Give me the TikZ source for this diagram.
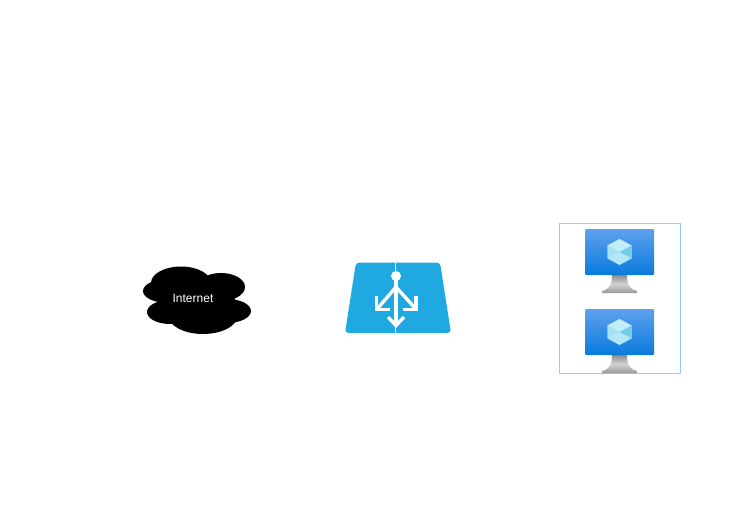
\documentclass[tikz,border=0pt]{standalone}
\usepackage{fontspec}
\setmainfont{Liberation Sans}
\definecolor{lbblue}{HTML}{1FA9E0}
\definecolor{boxblue}{HTML}{8CCFF7}
\definecolor{montop}{HTML}{5EA0EF}
\definecolor{monbot}{HTML}{0A7BDC}
\definecolor{cubea}{HTML}{C3EDF9}
\definecolor{cubeb}{HTML}{A9E2F5}
\definecolor{cubec}{HTML}{76CCE4}
\definecolor{cubed}{HTML}{B4E6F7}
\tikzset{
  lobe/.style={fill=black,draw=none},
  lbarrow/.style={draw=white,line width=3.4pt,line cap=butt,line join=miter},
  vmbox/.pic={
    \shade[top color=gray!90,bottom color=gray!80,middle color=gray!35]
      (-7.5,23) -- (7.5,23) .. controls (7.5,33) and (10,37) .. (17.5,39) -- (17.5,41) -- (-17.5,41) -- (-17.5,39) .. controls (-10,37) and (-7.5,33) .. (-7.5,23) -- cycle;
    \shade[top color=montop,bottom color=monbot,rounded corners=1pt]
      (-34.5,-23) rectangle (34.5,23);
    \fill[cubed] (0,-13) -- (12,-6.5) -- (12,6.5) -- (0,13) -- (-12,6.5) -- (-12,-6.5) -- cycle;
    \fill[cubea] (0,-13) -- (12,-6.5) -- (0,0) -- (-12,-6.5) -- cycle;
    \fill[cubec] (12,-6.5) -- (12,6.5) -- (0,0) -- cycle;
    \fill[cubeb] (-12,6.5) -- (-12,-6.5) -- (0,0) -- cycle;
  }
}
\begin{document}
\begin{tikzpicture}[x=1pt,y=-1pt]
\useasboundingbox (0,0) rectangle (756,530);
% cloud
\fill[lobe] (168,291) ellipse [x radius=25,y radius=12];
\fill[lobe] (181,283) ellipse [x radius=30,y radius=16.5];
\fill[lobe] (221,287) ellipse [x radius=24,y radius=14];
\fill[lobe] (227,311) ellipse [x radius=24,y radius=12];
\fill[lobe] (170,312) ellipse [x radius=23,y radius=12];
\fill[lobe] (203,315) ellipse [x radius=35,y radius=19];
\fill[lobe] (197,300) ellipse [x radius=38,y radius=20];
\node[text=white,font=\fontsize{12}{14}\selectfont,inner sep=0pt] (inet) at (193,298) {Internet};
% load balancer
\fill[lbblue,rounded corners=3.5pt] (356,262.5) -- (440,262.5) -- (451,333) -- (345,333) -- cycle;
\fill[white] (396,276) circle [radius=5];
\draw[lbarrow] (396,279) -- (396,326);
\draw[lbarrow] (396,287) -- (378,308);
\draw[lbarrow] (396,287) -- (415,308);
\draw[lbarrow] (376.5,296) -- (376.5,309.5) -- (390,309.5);
\draw[lbarrow] (416,296) -- (416,309.5) -- (403,309.5);
\draw[lbarrow] (388,317) -- (396,325.5) -- (404,317);
\draw[white,line width=0.8pt] (395.5,262.5) -- (395.5,333);
% vm group
\draw[boxblue,line width=1pt] (559.75,223.5) rectangle (680.25,373.75);
\pic at (619.5,252) {vmbox};
\pic at (619.5,332) {vmbox};
\end{tikzpicture}
\end{document}
